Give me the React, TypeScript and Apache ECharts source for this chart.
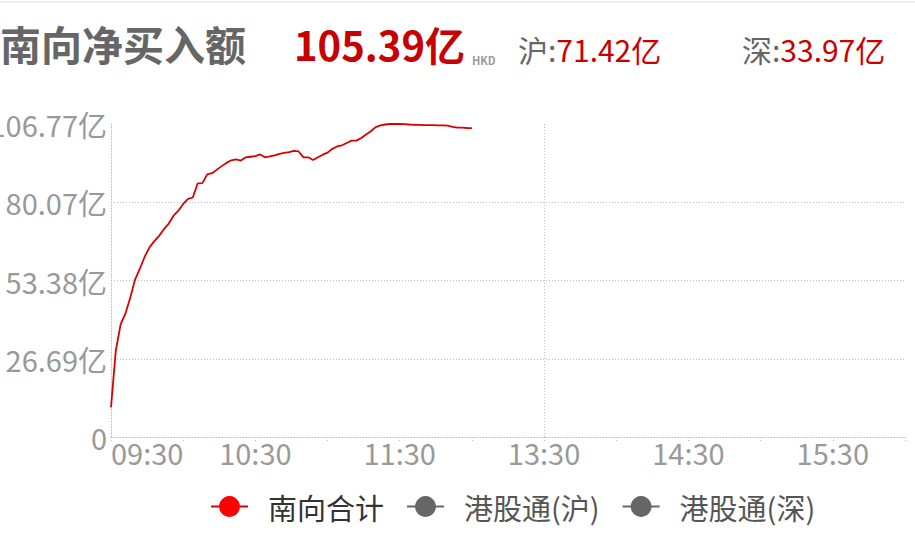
import React, { useEffect, useRef } from 'react';
import * as echarts from 'echarts';

// 南向资金 净买入 (亿), 每 2 分钟一个点, 09:30 - 12:00
const southTotal = [
  10.1, 29.5, 38.4, 42.1, 47.5, 53.7, 57.4, 61.5, 64.7, 66.8,
  68.6, 70.9, 72.8, 75.5, 77.2, 79.5, 81.2, 81.7, 86.5, 86.6,
  89.6, 90.0, 91.2, 92.4, 93.5, 94.4, 94.7, 94.3, 95.4, 95.6,
  95.8, 96.4, 95.4, 95.7, 96.1, 96.6, 96.9, 97.2, 97.6, 97.4,
  95.4, 95.4, 94.5, 95.4, 96.3, 97.0, 98.3, 99.1, 99.5, 100.3,
  101.1, 101.1, 102.0, 103.2, 104.3, 105.7, 106.3, 106.6, 106.77, 106.77,
  106.77, 106.7, 106.6, 106.5, 106.5, 106.4, 106.4, 106.4, 106.3, 106.3,
  106.2, 105.8, 105.5, 105.5, 105.4, 105.39,
];
const shValues: number[] = [];
const szValues: number[] = [];

const seriesNames = ['南向合计', '港股通(沪)', '港股通(深)'];
const yLabels = ['0', '26.69亿', '53.38亿', '80.07亿', '106.77亿'];
const xLabelTimes = ['09:30', '10:30', '11:30', '13:30', '14:30', '15:30'];

const headline = { title: '南向净买入额', total: '105.39亿', unit: 'HKD', sh: '71.42亿', sz: '33.97亿' };

// 交易时段 09:30-12:00, 13:00-16:00, 每 2 分钟
const pad = (n: number) => (n < 10 ? '0' + n : '' + n);
const makeTimes = () => {
  const out: string[] = [];
  for (let m = 9 * 60 + 30; m <= 12 * 60; m += 2) out.push(pad(Math.floor(m / 60)) + ':' + pad(m % 60));
  for (let m = 13 * 60 + 2; m <= 16 * 60; m += 2) out.push(pad(Math.floor(m / 60)) + ':' + pad(m % 60));
  return out;
};
const times = makeTimes();

const App: React.FC = () => {
  const chartRef = useRef<HTMLDivElement>(null);

  useEffect(() => {
    if (!chartRef.current) return;
    const chart = echarts.init(chartRef.current, undefined, { renderer: 'svg' });
    const font = '"Noto Sans CJK SC", "Noto Sans", sans-serif';
    const dotted = { color: '#bbb', type: [1, 2] as number[], width: 1 };

    const option: echarts.EChartsOption = {
      animation: false,
      textStyle: { fontFamily: font },
      graphic: [
        { type: 'rect', left: 0, top: 1, shape: { width: 915, height: 2 }, style: { fill: '#eeeeee' } },
        {
          type: 'text', left: 0, top: 22,
          style: { text: headline.title, fontSize: 41, fontWeight: 'bold', fill: '#666', fontFamily: font },
        },
        {
          type: 'text', left: 294, top: 24,
          style: { text: headline.total, fontSize: 40, fontWeight: 'bold', fill: '#c80000', fontFamily: font },
        },
        {
          type: 'text', left: 472, top: 54,
          style: { text: headline.unit, fontSize: 11, fontWeight: 'bold', fill: '#999', fontFamily: font },
        },
        {
          type: 'text', left: 518, top: 34,
          style: {
            text: '{a|沪:}{b|' + headline.sh + '}',
            rich: {
              a: { fontSize: 30, fill: '#666', fontFamily: font },
              b: { fontSize: 30, fill: '#c80000', fontFamily: font },
            },
          },
        },
        {
          type: 'text', left: 742, top: 34,
          style: {
            text: '{a|深:}{b|' + headline.sz + '}',
            rich: {
              a: { fontSize: 30, fill: '#666', fontFamily: font },
              b: { fontSize: 30, fill: '#c80000', fontFamily: font },
            },
          },
        },
      ],
      legend: {
        left: 205,
        top: 487,
        itemWidth: 37,
        itemHeight: 26,
        itemGap: 22,
        textStyle: { fontSize: 29, padding: [0, 0, 0, 15], fontFamily: font },
        data: [
          { name: seriesNames[0], textStyle: { color: '#333' } },
          { name: seriesNames[1], textStyle: { color: '#555' } },
          { name: seriesNames[2], textStyle: { color: '#555' } },
        ],
      },
      grid: { left: 111, right: 10, top: 124, bottom: 98, containLabel: false, outerBoundsMode: 'none' } as any,
      xAxis: {
        type: 'category',
        boundaryGap: false,
        data: times,
        axisLine: { lineStyle: dotted },
        axisTick: { interval: 14, length: 4, lineStyle: dotted },
        axisLabel: {
          interval: (index: number, value: string) => xLabelTimes.indexOf(value) >= 0 && index !== 75,
          fontSize: 29,
          color: '#999',
          margin: 0,
          alignMinLabel: 'left',
        } as any,
        splitLine: {
          show: true,
          interval: (_index: number, value: string) => value === '13:30',
          lineStyle: dotted,
        },
      },
      yAxis: {
        type: 'value',
        min: 0,
        max: 106.77,
        interval: 26.6925,
        axisLine: { show: true, lineStyle: dotted },
        axisTick: { show: false },
        axisLabel: {
          fontSize: 29,
          color: '#999',
          margin: 4,
          formatter: (_v: number, i: number) => yLabels[i],
        },
        splitLine: { lineStyle: dotted, showMaxLine: false, showMinLine: false } as any,
      },
      series: [
        {
          name: seriesNames[0],
          type: 'line',
          data: southTotal,
          symbol: 'circle',
          showSymbol: false,
          itemStyle: { color: '#ff0000' },
          lineStyle: { color: '#d80000', width: 1.8 },
        },
        {
          name: seriesNames[1],
          type: 'line',
          data: shValues,
          symbol: 'circle',
          showSymbol: false,
          itemStyle: { color: '#666' },
          lineStyle: { color: '#666', width: 1 },
        },
        {
          name: seriesNames[2],
          type: 'line',
          data: szValues,
          symbol: 'circle',
          showSymbol: false,
          itemStyle: { color: '#666' },
          lineStyle: { color: '#666', width: 1 },
        },
      ],
    };

    chart.setOption(option);
    return () => {
      chart.dispose();
    };
  }, []);

  return <div ref={chartRef} style={{ position: 'absolute', left: 0, top: 0, width: 915, height: 535 }} />;
};

export default App;
